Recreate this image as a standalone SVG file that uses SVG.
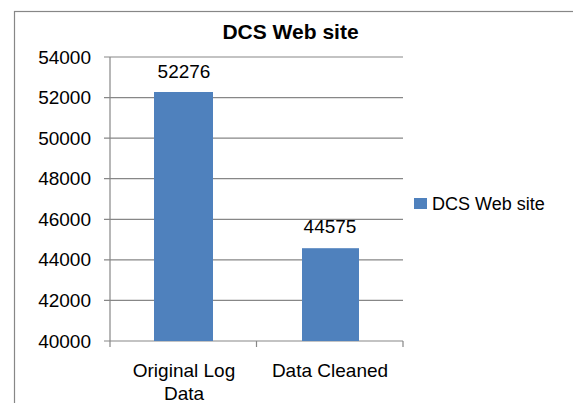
<svg xmlns="http://www.w3.org/2000/svg" width="573" height="403" viewBox="0 0 573 403">
  <style>
    .grid { stroke: #878787; stroke-width: 1.2; fill: none; }
    .bar { fill: #4f81bd; }
    .txt { font-family: "Liberation Sans", Arial, sans-serif; fill: #000; }
    .ylab { font-size: 19px; text-anchor: end; }
    .clab { font-size: 19px; text-anchor: middle; }
    .title { font-size: 21px; font-weight: bold; text-anchor: middle; }
  </style>
  <rect width="573" height="403" fill="#ffffff"/>
  <!-- chart frame -->
  <rect x="14.5" y="11.5" width="600" height="500" class="grid"/>
  <text class="txt title" x="290.5" y="39">DCS Web site</text>

  <g id="axes">
    <!-- horizontal gridlines with left ticks -->
    <path class="grid" d="M104 57H403 M104 97.6H403 M104 138.1H403 M104 178.7H403 M104 219.3H403 M104 259.9H403 M104 300.4H403 M104 341H403"/>
    <!-- value axis -->
    <path class="grid" d="M110 57V341"/>
    <!-- category ticks -->
    <path class="grid" d="M110 341V347 M256.5 341V347 M403 341V347"/>
    <g class="txt ylab">
      <text x="91" y="63.5">54000</text>
      <text x="91" y="104">52000</text>
      <text x="91" y="144.6">50000</text>
      <text x="91" y="185.2">48000</text>
      <text x="91" y="225.8">46000</text>
      <text x="91" y="266.4">44000</text>
      <text x="91" y="306.9">42000</text>
      <text x="91" y="347.5">40000</text>
    </g>
  </g>

  <g id="bar-original">
    <rect class="bar" x="154" y="92" width="59" height="249"/>
    <text class="txt clab" x="184" y="78">52276</text>
    <text class="txt clab" x="184" y="377">Original Log</text>
    <text class="txt clab" x="184" y="400">Data</text>
  </g>

  <g id="bar-cleaned">
    <rect class="bar" x="302" y="248.2" width="57" height="92.8"/>
    <text class="txt clab" x="330" y="233">44575</text>
    <text class="txt clab" x="330" y="377">Data Cleaned</text>
  </g>

  <g id="legend">
    <rect class="bar" x="414" y="198" width="13" height="11"/>
    <text class="txt" x="432" y="209.5" font-size="18">DCS Web site</text>
  </g>
</svg>
